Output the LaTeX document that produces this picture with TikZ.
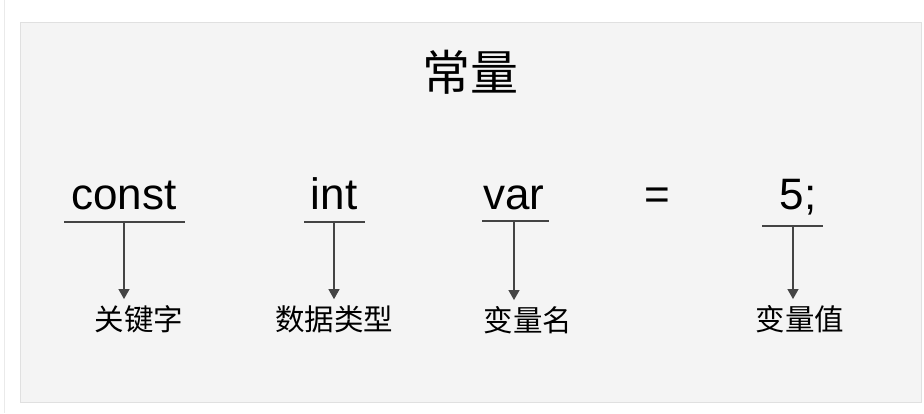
\documentclass[tikz,border=0pt]{standalone}
\usepackage{fontspec}
\setmainfont{Liberation Sans}
\newfontfamily\cjk{Noto Sans CJK SC}
\usetikzlibrary{arrows.meta}
\definecolor{panelfill}{HTML}{F4F4F4}
\definecolor{paneledge}{HTML}{E0E0E0}
\definecolor{sideline}{HTML}{EAEAEA}
\definecolor{linkcol}{HTML}{444444}
\tikzset{
  codeword/.style={inner sep=0pt, anchor=base, font=\fontsize{44}{46}\selectfont},
  titletext/.style={inner sep=0pt, font=\cjk\fontsize{48}{50}\selectfont},
  labeltext/.style={inner sep=0pt, font=\cjk\fontsize{29.5}{32}\selectfont},
  underl/.style={line width=1.1pt, draw=linkcol},
  arr/.style={line width=1.1pt, draw=linkcol, -{Triangle[length=10pt,width=11pt]}, shorten >=6pt}
}
\begin{document}
\begin{tikzpicture}[x=1pt,y=-1pt]
\useasboundingbox (0,0) rectangle (924,413);
\fill[white] (0,0) rectangle (924,413);
\draw[sideline, line width=1pt] (4,0) -- (4,413);
\draw[fill=panelfill, draw=paneledge, line width=1pt] (20,22) rectangle (921,402);

\node[titletext] (title) at (470,72) {常量};

\node[codeword] (const) at (124,209) {const};
\node[codeword] (int) at (334,209) {int};
\node[codeword] (var) at (514,209) {var};
\node[codeword] (eq) at (657,209) {=};
\node[codeword] (five) at (798,209) {5;};

\coordinate (cu) at (124,222);
\coordinate (iu) at (334,222);
\coordinate (vu) at (514,222);
\coordinate (fu) at (793,226);
\draw[underl] (64,222) -- (185,222);
\draw[underl] (304,222) -- (365,222);
\draw[underl] (482,221) -- (549,221);
\draw[underl] (762,226) -- (823,226);

\node[labeltext] (kw) at (139,319) {关键字};
\node[labeltext] (dt) at (334,319) {数据类型};
\node[labeltext] (vn) at (528,320) {变量名};
\node[labeltext] (vv) at (800,319) {变量值};

\draw[arr] (cu) -- (cu |- kw.north);
\draw[arr] (iu) -- (iu |- dt.north);
\draw[arr] (vu) -- (vu |- vn.north);
\draw[arr] (fu) -- (fu |- vv.north);
\end{tikzpicture}
\end{document}
